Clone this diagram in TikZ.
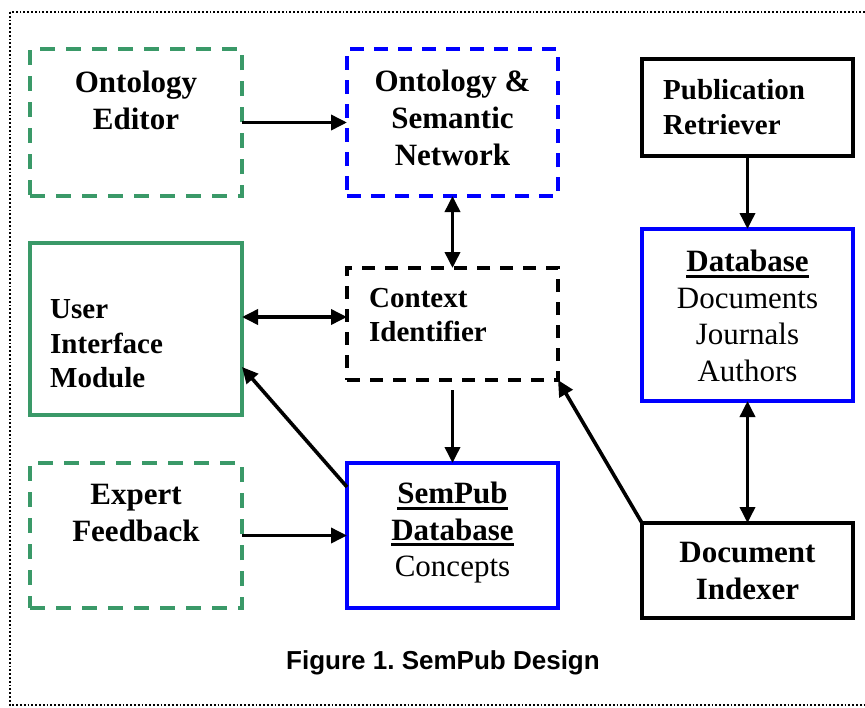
\documentclass[tikz,border=0pt]{standalone}
\usepackage{fontspec}
\setmainfont{Liberation Serif}
\newfontfamily\capfont{Liberation Sans}
\usetikzlibrary{arrows.meta}
\definecolor{boxgreen}{RGB}{58,153,104}
\definecolor{boxblue}{RGB}{0,0,255}
\newcommand\myul[1]{\setbox0\hbox{#1}\leavevmode\rlap{\rule[-6pt]{\wd0}{3pt}}\box0}
\frenchspacing
\begin{document}
\begin{tikzpicture}[x=1pt,y=-1pt,
  box/.style={draw, inner sep=0pt, outer sep=0pt},
  dim/.style 2 args={minimum width=#1pt, minimum height=#2pt},
  greendash/.style={box, draw=boxgreen, line width=4.2pt, dash pattern=on 15pt off 11pt},
  greensolid/.style={box, draw=boxgreen, line width=3.4pt},
  bluedash/.style={box, draw=boxblue, line width=4.2pt, dash pattern=on 14pt off 10pt},
  bluesolid/.style={box, draw=boxblue, line width=4.2pt},
  blackdash/.style={box, draw=black, line width=4pt, dash pattern=on 13pt off 10pt},
  blacksolid/.style={box, draw=black, line width=4.2pt},
  bigtxt/.style={font=\fontsize{31}{37}\selectfont\bfseries, align=center, inner sep=0pt},
  lefttxt/.style={font=\fontsize{29}{34.5}\selectfont\bfseries, align=left, inner sep=0pt, anchor=west},
  dbtxt/.style={font=\fontsize{31}{36.5}\selectfont, align=center, inner sep=0pt},
  arr/.style={line width=3.6pt, -{Triangle[length=16pt,width=15pt]}},
  darr/.style={line width=3.6pt, {Triangle[length=16pt,width=15pt]}-{Triangle[length=16pt,width=15pt]}},
  frame/.style={line width=1.8pt, dash pattern=on 1.8pt off 2pt}
]
\useasboundingbox (0,0) rectangle (865,707);
\begin{scope}
  \clip (0,0) rectangle (865,707);
  \draw[frame] (10,12) rectangle (875,705);
\end{scope}

% boxes
\node[greendash, dim={212}{147}] (oe) at (136,122.5) {};
\node[bluedash, dim={211}{147}] (os) at (452.5,122.5) {};
\node[blackdash, dim={211}{112}] (ci) at (452.5,324) {};
\node[greensolid, dim={212}{172}] (ui) at (136,329) {};
\node[greendash, dim={212}{145}] (ef) at (136,535.5) {};
\node[bluesolid, dim={211}{145}] (sp) at (452.5,535.5) {};
\node[blacksolid, dim={211}{97}] (pr) at (747.5,107.5) {};
\node[bluesolid, dim={211}{172}] (db) at (747.5,315) {};
\node[blacksolid, dim={211}{95}] (di) at (747.5,570.5) {};

% texts
\node[bigtxt] (oet) at (136,100) {Ontology\\Editor};
\node[bigtxt] (ost) at (452.5,118) {Ontology \&\\Semantic\\Network};
\node[lefttxt] (prt) at (663,107) {Publication\\Retriever};
\node[lefttxt] (cit) at (369,315) {Context\\Identifier};
\node[lefttxt] (uit) at (50,344) {User\\Interface\\Module};
\node[dbtxt] (dbt) at (747.5,316) {\textbf{\myul{Database}}\\Documents\\Journals\\Authors};
\node[bigtxt] (eft) at (136,513) {Expert\\Feedback};
\node[dbtxt] (spt) at (452.5,533) {\textbf{\myul{SemPub}}\\\textbf{\myul{Database}}\\Concepts};
\node[bigtxt] (dit) at (747.5,571) {Document\\Indexer};
\node[font=\fontsize{26}{30}\selectfont\capfont\bfseries, inner sep=0pt] (cap) at (443,663) {Figure 1. SemPub Design};

% connectors
\draw[arr] (oe.east) -- (os.west);
\draw[darr] (os.south) -- (ci.north);
\draw[darr] (ui.east |- 0,317) -- (ci.west |- 0,317);
\draw[arr] ([yshift=-10pt]ci.south) -- (sp.north);
\draw[arr] ([yshift=-24pt]sp.north west) -- (ui.east |- 0,367);
\draw[arr] (di.north west) -- (ci.south east);
\draw[arr] (pr.south) -- (db.north);
\draw[darr] (db.south) -- (di.north);
\draw[arr] (ef.east) -- (sp.west);
\end{tikzpicture}
\end{document}
